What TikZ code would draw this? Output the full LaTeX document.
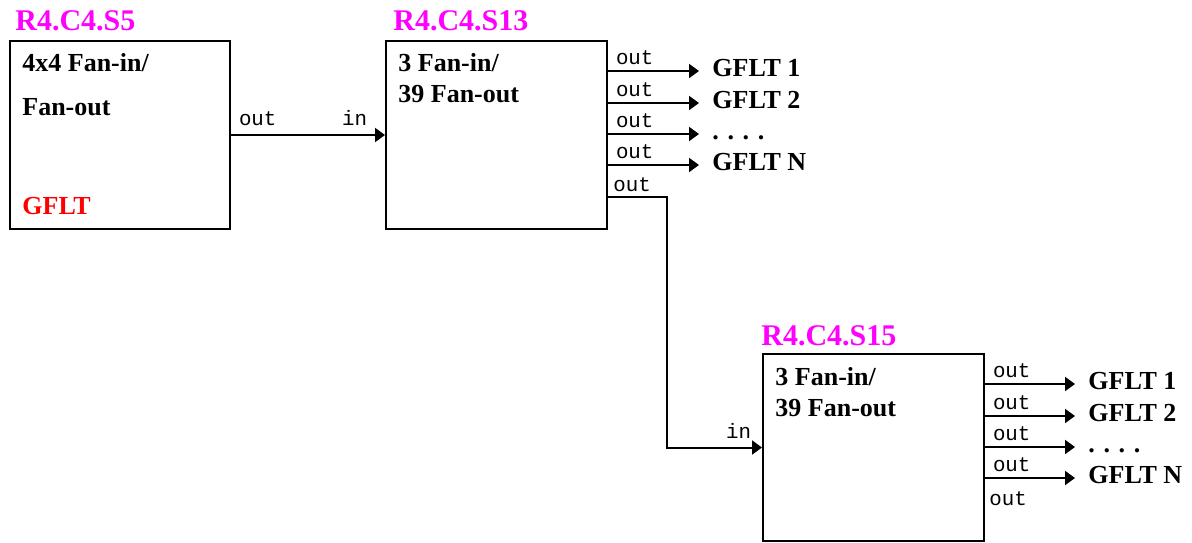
\documentclass[tikz,border=0pt]{standalone}
\usepackage{fontspec}
\setmainfont{Liberation Serif}
\setmonofont{Liberation Mono}
\usetikzlibrary{arrows.meta}

\definecolor{slotpink}{RGB}{255,0,255}

\tikzset{
  blk/.style={draw, line width=1pt, inner sep=0pt, anchor=north west,
    minimum width=110.5pt, minimum height=94pt},
  slotname/.style={anchor=base west, inner sep=0pt, text=slotpink,
    font=\fontsize{15}{18}\selectfont\bfseries},
  blktext/.style={anchor=base west, inner sep=0pt,
    font=\fontsize{13}{15}\selectfont\bfseries},
  dest/.style={anchor=west, inner xsep=6.5pt, inner ysep=0pt,
    text height=8.6pt, text depth=3.6pt,
    font=\fontsize{13}{15}\selectfont\bfseries},
  port/.style={inner sep=0pt, font=\fontsize{10.4}{12}\selectfont\ttfamily},
  arr/.style={line width=1pt, -{Triangle[length=5pt,width=7pt]}}
}

\begin{document}
\begin{tikzpicture}[x=0.5pt,y=-0.5pt]
        \useasboundingbox (0,0) rectangle (1192,542);

        % the three slots
        \node[blk, minimum width=110pt] (s5) at (9,40) {};
        \node[blk] (s13) at (385,40) {};
        \node[blk, minimum height=93.5pt] (s15) at (762,353) {};

        \node[slotname] (n5) at (15,30) {R4.C4.S5};
        \node[slotname] (n13) at (393,30) {R4.C4.S13};
        \node[slotname] (n15) at (761,345) {R4.C4.S15};

        % text inside the slots
        \node[blktext] (t5a) at (22,71) {4x4 Fan-in/};
        \node[blktext] (t5b) at (22,115) {Fan-out};
        \node[blktext, text=red] (t5c) at (22,214) {GFLT};
        \node[blktext] (t13a) at (398,71) {3 Fan-in/};
        \node[blktext] (t13b) at (398,102) {39 Fan-out};
        \node[blktext] (t15a) at (775,385) {3 Fan-in/};
        \node[blktext] (t15b) at (775,416) {39 Fan-out};

        % S5 to S13
        \draw[arr] (s5.east) -- (s13.west)
            node[port, pos=0, anchor=base west, xshift=3.5pt, yshift=5pt] {out}
            node[port, pos=1, anchor=base east, xshift=-8.5pt, yshift=5pt] {in};

        % outputs of S13
        \foreach \y/\dtext [count=\i] in {71/GFLT 1, 103/GFLT 2, 134/{. . . .}, 165/GFLT N}{
            \node[dest] (b\i) at (699,\y) {\dtext};
            \draw[arr] (s13.east |- b\i.west) -- (b\i.west)
                node[port, pos=0, anchor=base west, xshift=3.5pt, yshift=3.5pt] {out};
        }

        % S13 to S15
        \coordinate (bend) at (667,197);
        \draw[arr] (s13.east |- bend) -- (bend) -- (bend |- s15.west) -- (s15.west)
            node[port, pos=1, anchor=base east, xshift=-5pt, yshift=4.5pt] {in};
        \node[port, anchor=base west] (o13) at (613,191) {out};

        % outputs of S15
        \foreach \y/\dtext [count=\i] in {384/GFLT 1, 416/GFLT 2, 447/{. . . .}, 478/GFLT N}{
            \node[dest] (c\i) at (1075,\y) {\dtext};
            \draw[arr] (s15.east |- c\i.west) -- (c\i.west)
                node[port, pos=0, anchor=base west, xshift=3.5pt, yshift=3.5pt] {out};
        }
        \node[port, anchor=base west] (o15) at (989,505) {out};

\end{tikzpicture}
\end{document}
